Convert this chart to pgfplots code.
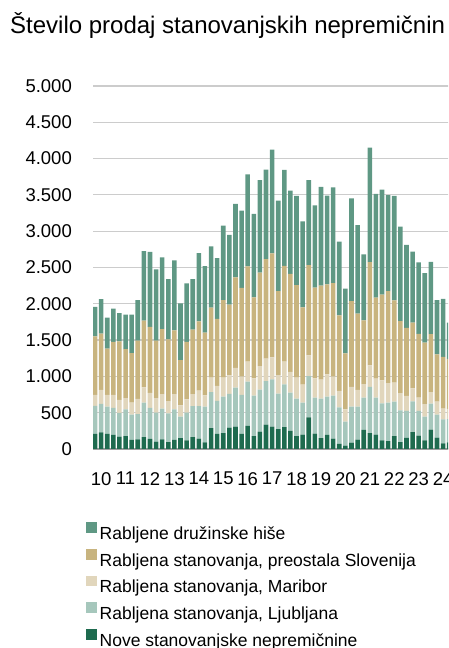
\documentclass[border=0pt]{standalone}
\usepackage{fontspec}
\setmainfont{Liberation Sans}
\usepackage{pgfplots}
\usepackage{pgfplotstable}
\pgfplotsset{compat=1.18}

\definecolor{hise}{RGB}{95,152,132}
\definecolor{pre}{RGB}{200,180,127}
\definecolor{mb}{RGB}{225,214,188}
\definecolor{lj}{RGB}{166,199,188}
\definecolor{nove}{RGB}{30,107,79}

% quarterly sales, one row per bar (index 0 = first bar)
\pgfplotstableread{
idx nove lj mb pre hise
0 207 386 152 808 404
1 230 390 193 776 477
2 207 376 161 638 427
3 193 372 179 730 459
4 170 326 179 808 390
5 179 367 156 675 473
6 124 349 165 684 528
7 133 349 207 803 560
8 165 473 211 918 960
9 138 427 207 909 1033
10 101 399 202 790 982
11 133 422 202 895 987
12 96 395 170 849 831
13 124 422 211 877 964
14 151 294 156 624 780
15 119 381 184 790 808
16 165 427 165 886 698
17 142 450 211 955 941
18 92 491 156 863 918
19 289 496 197 964 845
20 207 455 207 923 836
21 220 500 262 1070 1024
22 294 464 257 973 960
23 308 537 271 1249 1010
24 207 537 253 1221 1065
25 317 611 275 1313 1267
26 179 556 239 1116 1148
27 239 578 326 1285 1276
28 335 601 308 1373 1230
29 308 652 303 1432 1428
30 275 487 257 1157 1244
31 303 588 312 1318 1322
32 248 528 285 1350 1148
33 179 514 289 1276 1230
34 197 441 248 1065 1184
35 436 569 285 1244 1171
36 211 496 266 1249 1134
37 151 542 262 1295 1359
38 193 528 308 1240 1221
39 142 592 262 1290 1318
40 69 505 225 1042 1015
41 46 331 170 771 891
42 87 496 271 1184 1414
43 129 455 230 1051 1217
44 262 445 188 877 909
45 220 634 298 1423 1575
46 197 510 262 1116 1428
47 119 510 317 1180 1446
48 110 528 271 1267 1322
49 179 473 262 1134 1437
50 96 436 239 992 1299
51 152 372 207 937 1143
52 234 422 179 904 978
53 184 340 184 877 987
54 119 326 174 845 960
55 266 358 161 799 992
56 156 317 179 652 748
57 78 331 147 712 799
58 92 320 140 690 500
}\prodaje

\begin{document}
\begin{tikzpicture}
\useasboundingbox (0,0) rectangle (448pt,648pt);
\clip (0,0) rectangle (448pt,648pt);
\node[anchor=base west, inner sep=0pt, font=\fontsize{24}{28}\selectfont]
  at (10pt,614pt) {Število prodaj stanovanjskih nepremičnin};
\begin{axis}[
  at={(93pt,199pt)}, anchor=south west,
  x=6.107pt, y=0.0726pt,
  xmin=-0.33, xmax=62, ymin=0, ymax=5000,
  enlargelimits=false,
  ybar stacked, bar width=4.6pt,
  ytick={0,500,...,5000},
  xtick={1,5,...,57},
  xticklabels={10,11,12,13,14,15,16,17,18,19,20,21,22,23,24},
  scaled y ticks=false,
  /pgf/number format/1000 sep={.},
  /pgf/number format/assume math mode=true,
  tick style={draw=none},
  major tick length=0pt,
  yticklabel style={font=\fontsize{18.5}{22}\selectfont, anchor=east, inner sep=0pt, xshift=-21pt},
  xticklabel style={font=\fontsize{18.5}{22}\selectfont, anchor=north, inner sep=0pt, yshift=-23pt},
  ymajorgrids,
  grid style={draw=gray!40, line width=1.2pt},
  axis x line*=bottom, axis y line*=left,
  y axis line style={draw=none},
  x axis line style={draw=gray!75, line width=1.4pt, -},
  legend style={at={(0,0)}, anchor=north west, xshift=-7pt, yshift=-73.3pt,
    draw=none, fill=none, inner sep=0pt, outer sep=0pt,
    row sep=5.5pt, column sep=3pt,
    font=\fontsize{17.5}{20}\selectfont,
    nodes={inner sep=0pt, text height=13pt, text depth=4pt}},
  legend cell align=left,
  reverse legend,
  legend image code/.code={\fill[#1] (0pt,2pt) rectangle (10.7pt,12.7pt);},
]
\addplot[fill=nove, draw=none] table[x=idx, y=nove] {\prodaje};
\addlegendentry{Nove stanovanjske nepremičnine}
\addplot[fill=lj, draw=none] table[x=idx, y=lj] {\prodaje};
\addlegendentry{Rabljena stanovanja, Ljubljana}
\addplot[fill=mb, draw=none] table[x=idx, y=mb] {\prodaje};
\addlegendentry{Rabljena stanovanja, Maribor}
\addplot[fill=pre, draw=none] table[x=idx, y=pre] {\prodaje};
\addlegendentry{Rabljena stanovanja, preostala Slovenija}
\addplot[fill=hise, draw=none] table[x=idx, y=hise] {\prodaje};
\addlegendentry{Rabljene družinske hiše}
\end{axis}
\end{tikzpicture}
\end{document}
